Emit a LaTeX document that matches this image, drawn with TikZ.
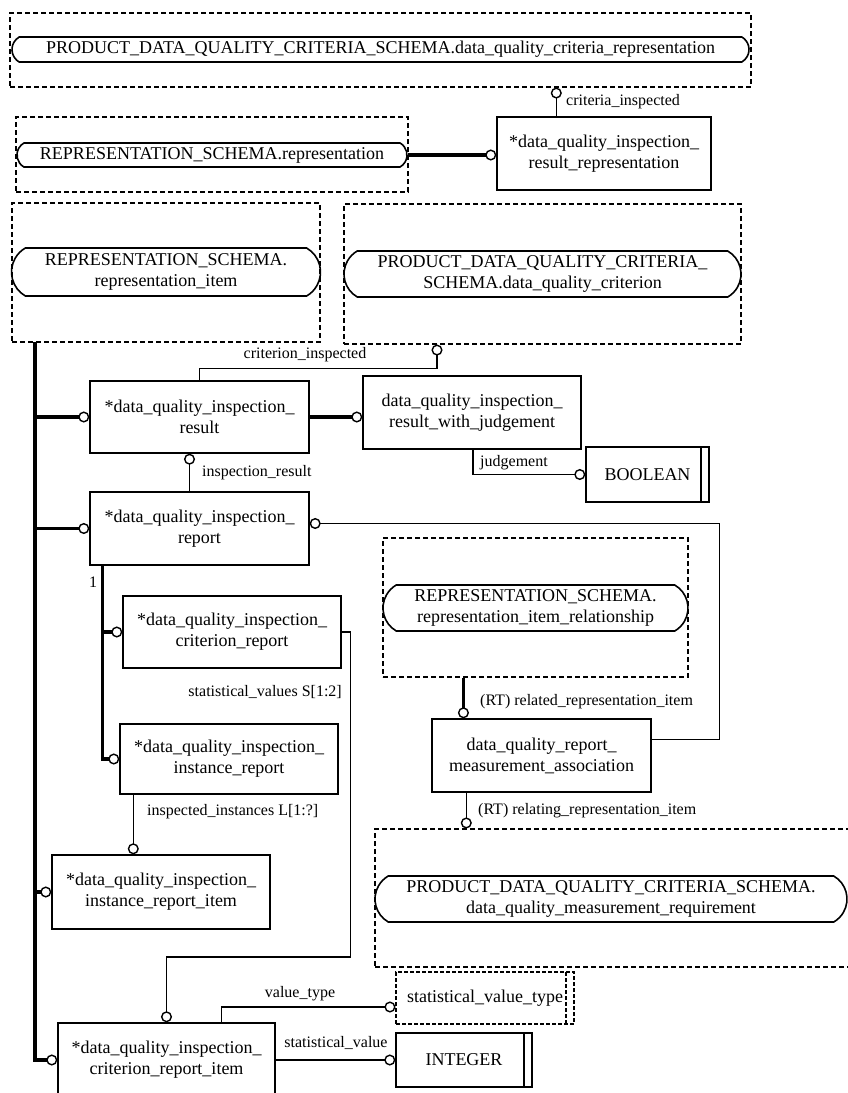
\documentclass[tikz,border=0pt]{standalone}
\usepackage{fontspec}
\setmainfont{Liberation Serif}
\usetikzlibrary{arrows.meta,shapes.misc}

\begin{document}
\begin{tikzpicture}[
    x=1pt, y=-1pt,
    entity/.style={draw, line width=1.4pt, align=center, inner sep=0pt, font={\fontsize{18pt}{21pt}\selectfont}},
    simpletype/.style={entity, path picture={\draw[line width=1.2pt] ([xshift=-8pt]path picture bounding box.north east) -- ([xshift=-8pt]path picture bounding box.south east);}},
    deftype/.style={draw, dash pattern=on 4pt off 2pt, line width=1.1pt, align=center, inner sep=0pt, font={\fontsize{18pt}{21pt}\selectfont},
        path picture={\draw[dash pattern=on 4pt off 2pt, line width=1.1pt] ([xshift=-8pt]path picture bounding box.north east) -- ([xshift=-8pt]path picture bounding box.south east);}},
    schemabox/.style={draw, dash pattern=on 5pt off 3pt, line width=1.1pt, inner sep=0pt},
    extref/.style={draw, rounded rectangle, rounded rectangle arc length=120, line width=1.6pt, align=center, inner sep=0pt, font={\fontsize{18pt}{21pt}\selectfont}},
    rel/.style={line width=1.2pt, -{Circle[open, length=11pt, width=11pt, line width=1.4pt 0]}},
    sub/.style={line width=3.5pt, -{Circle[open, length=11pt, width=11pt, line width=1.4pt 0]}},
    lbl/.style={inner sep=1pt, font={\fontsize{16pt}{18pt}\selectfont}}
]
\useasboundingbox (0,0) rectangle (848,1093);
\fill[white] (0,0) rectangle (848,1093);

% external schema references
\node[schemabox, minimum width=741pt, minimum height=74pt] (crepbox) at (380.5,50) {};
\node[extref, minimum width=737pt, minimum height=25pt] (crep) at (380.5,49.5) {PRODUCT\_DATA\_QUALITY\_CRITERIA\_SCHEMA.data\_quality\_criteria\_representation};
\node[schemabox, minimum width=392pt, minimum height=75pt] (repbox) at (212,154.5) {};
\node[extref, minimum width=390pt, minimum height=24pt] (rep) at (212,155) {REPRESENTATION\_SCHEMA.representation};
\node[schemabox, minimum width=308pt, minimum height=139pt] (repitembox) at (166,272.5) {};
\node[extref, minimum width=309pt, minimum height=48pt] (repitem) at (166,272) {REPRESENTATION\_SCHEMA.\\representation\_item};
\node[schemabox, minimum width=397pt, minimum height=140pt] (critbox) at (542.5,274) {};
\node[extref, minimum width=397pt, minimum height=46pt] (crit) at (542.5,274) {PRODUCT\_DATA\_QUALITY\_CRITERIA\_\\SCHEMA.data\_quality\_criterion};
\node[schemabox, minimum width=305pt, minimum height=139pt] (relitembox) at (535.5,607.5) {};
\node[extref, minimum width=305pt, minimum height=46pt] (relitem) at (535.5,608) {REPRESENTATION\_SCHEMA.\\representation\_item\_relationship};
\node[schemabox, minimum width=477pt, minimum height=138pt] (measreqbox) at (613.5,898) {};
\node[extref, minimum width=472pt, minimum height=46pt] (measreq) at (611,899) {PRODUCT\_DATA\_QUALITY\_CRITERIA\_SCHEMA.\\data\_quality\_measurement\_requirement};

% entities
\node[entity, minimum width=214pt, minimum height=73pt] (resrep) at (604,153.5) {*data\_quality\_inspection\_\\result\_representation};
\node[entity, minimum width=219pt, minimum height=72pt] (result) at (199.5,417) {*data\_quality\_inspection\_\\result};
\node[entity, minimum width=218pt, minimum height=73pt] (judged) at (472,412.5) {data\_quality\_inspection\_\\result\_with\_judgement};
\node[simpletype, minimum width=123pt, minimum height=55pt] (boolean) at (647.5,474.5) {BOOLEAN};
\node[entity, minimum width=219pt, minimum height=73pt] (report) at (199.5,528.5) {*data\_quality\_inspection\_\\report};
\node[entity, minimum width=218pt, minimum height=72pt] (critreport) at (232,632) {*data\_quality\_inspection\_\\criterion\_report};
\node[entity, minimum width=218pt, minimum height=70pt] (instreport) at (229,759) {*data\_quality\_inspection\_\\instance\_report};
\node[entity, minimum width=218pt, minimum height=74pt] (institem) at (161,892) {*data\_quality\_inspection\_\\instance\_report\_item};
\node[entity, minimum width=219pt, minimum height=73pt] (measassoc) at (541.5,755.5) {data\_quality\_report\_\\measurement\_association};
\node[deftype, minimum width=178pt, minimum height=52pt] (svtype) at (485,998) {statistical\_value\_type};
\node[entity, minimum width=217pt, minimum height=74pt] (critem) at (166.5,1060) {*data\_quality\_inspection\_\\criterion\_report\_item};
\node[simpletype, minimum width=136pt, minimum height=54pt] (integer) at (464,1060) {INTEGER};

% connector ends
\coordinate (trunk) at (35,342);
\coordinate (ci) at ([xshift=60pt]resrep.north west);
\coordinate (cri) at ([xshift=-105.5pt]critbox.south);
\coordinate (ir) at ([xshift=-10pt]report.north);
\coordinate (oneof) at ([xshift=13pt]report.south west);
\coordinate (ii) at ([xshift=14pt]instreport.south west);
\coordinate (rri) at ([xshift=81pt]relitembox.south west);
\coordinate (rli) at ([xshift=35pt]measassoc.south west);
\coordinate (vt) at ([xshift=164pt]critem.north west);

% subtype lines
\draw[sub] (rep.east) -- (rep.east -| resrep.west);
\draw[sub] (trunk) |- (critem.west);
\draw[sub] (trunk |- result.west) -- (result.west);
\draw[sub] (trunk |- report.west) -- (report.west);
\draw[sub] (trunk |- institem.west) -- (institem.west);
\draw[sub] (result.east) -- (result.east -| judged.west);
\draw[sub] (oneof) |- (instreport.west);
\draw[sub] (oneof |- critreport.west) -- (critreport.west);
\draw[sub] (rri) -- (rri |- measassoc.north);

% attributes
\draw[rel] (ci) -- (ci |- crepbox.south);
\draw[rel] (result.north) -- ++(0,-12) -| (cri);
\draw[rel] ([xshift=1pt]judged.south) |- (boolean.west);
\draw[rel] (ir) -- (ir |- result.south);
\draw[rel] ([yshift=16pt]measassoc.east) -- ++(68,0) |- ([yshift=5pt]report.east);
\draw[rel] (critreport.east) -- ++(9,0) -- ++(0,325) -| (critem.north);
\draw[rel] (ii) -- (ii |- institem.north);
\draw[rel] (rli) -- (rli |- measreqbox.north);
\draw[rel] (vt) |- ([yshift=-9pt]svtype.west);
\draw[rel] (critem.east) -- (critem.east -| integer.west);

% labels
\node[lbl, anchor=west] (cilbl) at (565,102) {criteria\_inspected};
\node[lbl] (crilbl) at (305,355) {criterion\_inspected};
\node[lbl, anchor=west] (jlbl) at (479,463) {judgement};
\node[lbl, anchor=west] (irlbl) at (201,473) {inspection\_result};
\node[lbl] (oneoflbl) at (93,582) {1};
\node[lbl, anchor=east] (svlbl) at (343,692) {statistical\_values S[1:2]};
\node[lbl, anchor=west] (iilbl) at (146,812) {inspected\_instances L[1:?]};
\node[lbl, anchor=west] (rrilbl) at (479,702) {(RT) related\_representation\_item};
\node[lbl, anchor=west] (rlilbl) at (477,811) {(RT) relating\_representation\_item};
\node[lbl] (vtlbl) at (300,994) {value\_type};
\node[lbl] (stlbl) at (336,1043) {statistical\_value};
\end{tikzpicture}
\end{document}
